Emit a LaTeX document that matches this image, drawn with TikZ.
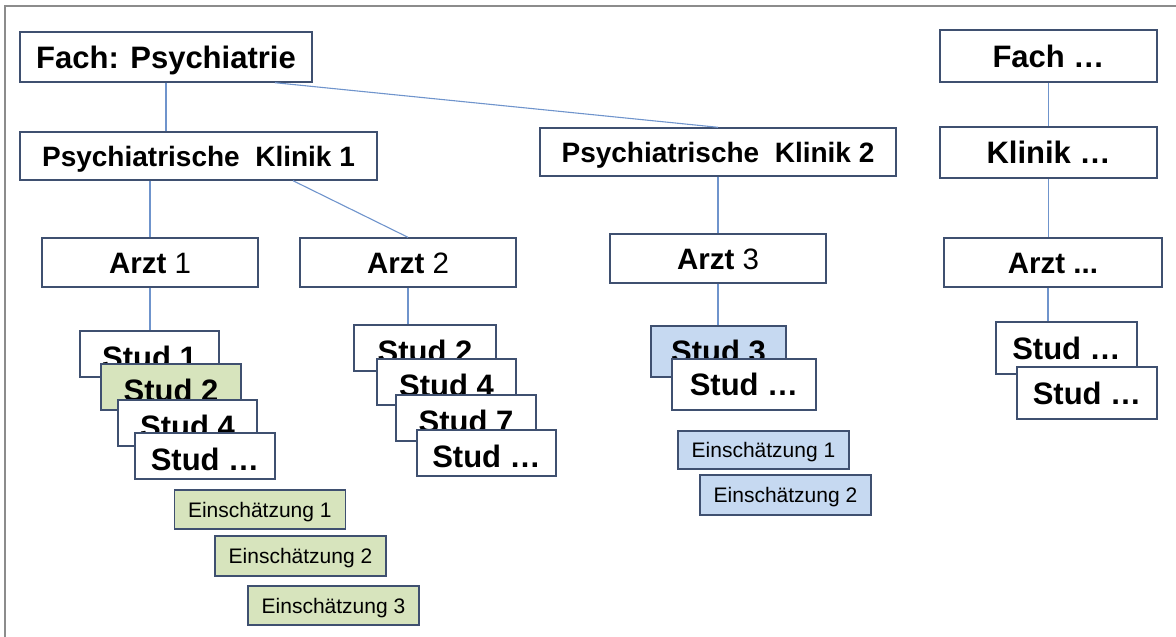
\documentclass[tikz,border=0pt]{standalone}
\usepackage{fontspec}
\setmainfont{Liberation Sans}
\definecolor{bord}{HTML}{3F5070}
\definecolor{conn}{HTML}{6F94CC}
\definecolor{grn}{HTML}{D7E4BD}
\definecolor{blu}{HTML}{C6D9F1}
\definecolor{framec}{HTML}{8C8C8C}
\tikzset{
  box/.style={draw=bord, fill=white, line width=1.4pt, inner sep=0pt, text depth=0pt},
  big/.style={box, font=\fontsize{31}{37}\selectfont\bfseries, text height=22pt},
  klin/.style={box, font=\fontsize{28}{34}\selectfont\bfseries, text height=20pt},
  arzt/.style={box, font=\fontsize{29.5}{35}\selectfont, text height=21pt, minimum width=216pt, minimum height=49pt},
  stud/.style={box, font=\fontsize{31}{37}\selectfont\bfseries, text height=22pt, minimum height=46pt},
  studlow/.style={stud, text height=29pt},
  ein/.style={box, font=\fontsize{21}{25}\selectfont, text height=15pt, minimum width=171pt, minimum height=39pt},
  link/.style={draw=conn, line width=1.1pt},
}
\begin{document}
\begin{tikzpicture}[x=1pt,y=-1pt]
\useasboundingbox (0,0) rectangle (1176,637);
\draw[framec, line width=1.5pt] (5,637) -- (5,6) -- (1176,6);

% top level
\node[big, minimum width=292pt, minimum height=50pt] (fach) at (166,57) {Fach: Psychiatrie};
\node[klin, minimum width=357pt, minimum height=48pt] (k1) at (198.5,156) {Psychiatrische~~Klinik 1};
\node[klin, minimum width=356pt, minimum height=48pt] (k2) at (718,152) {Psychiatrische~~Klinik 2};
\node[big, minimum width=217pt, minimum height=52pt] (fachx) at (1048.5,56) {Fach …};
\node[big, minimum width=217pt, minimum height=51pt] (klinx) at (1048.5,152.5) {Klinik …};

% doctors
\node[arzt] (a1) at (150,262.5) {\textbf{Arzt} 1};
\node[arzt] (a2) at (408,262.5) {\textbf{Arzt} 2};
\node[arzt] (a3) at (718,258.5) {\textbf{Arzt} 3};
\node[arzt, minimum width=218pt] (ax) at (1053,262.5) {\textbf{Arzt ...}};

% connectors
\draw[link] (fach.south) -- (fach.south |- k1.north);
\draw[link] ([xshift=109pt]fach.south) -- (k2.north);
\draw[link] (a1.north |- k1.south) -- (a1.north);
\draw[link] ([xshift=94.5pt]k1.south) -- (a2.north);
\draw[link] (k2.south) -- (a3.north);
\draw[link] (fachx.south) -- (klinx.north);
\draw[link] (klinx.south) -- (klinx.south |- ax.north);

% students column 1
\node[studlow, minimum width=139pt] (s11) at (149.5,354) {Stud 1};
\node[studlow, minimum width=140pt, fill=grn] (s12) at (171,387) {Stud 2};
\node[studlow, minimum width=139pt] (s14) at (187.5,423) {Stud 4};
\node[studlow, minimum width=140pt] (s1x) at (205,456) {Stud …};
\draw[link] (a1.south) -- (a1.south |- s11.north);

% students column 2
\node[studlow, minimum width=142pt] (s22) at (425,348) {Stud 2};
\node[studlow, minimum width=139pt] (s24) at (446.5,382) {Stud 4};
\node[studlow, minimum width=140pt] (s27) at (466,418) {Stud 7};
\node[studlow, minimum width=139pt] (s2x) at (486.5,453) {Stud …};
\draw[link] (a2.south) -- (a2.south |- s22.north);

% students column 3
\node[stud, minimum width=135pt, minimum height=51pt, fill=blu] (s33) at (718.5,351.5) {Stud 3};
\node[stud, minimum width=144pt, minimum height=51pt] (s3x) at (744,384.5) {Stud …};
\draw[link] (a3.south) -- (a3.south |- s33.north);

% students column 4
\node[stud, minimum width=141pt, minimum height=52pt] (s4a) at (1066.5,348) {Stud …};
\node[stud, minimum width=140pt, minimum height=52pt] (s4b) at (1087,393) {Stud …};
\draw[link] ([xshift=-5pt]ax.south) -- ([xshift=-5pt]ax.south |- s4a.north);

% assessments
\node[ein, fill=grn] (e11) at (259.8,509.5) {Einschätzung 1};
\node[ein, fill=grn, minimum height=40pt] (e12) at (300.5,556) {Einschätzung 2};
\node[ein, fill=grn] (e13) at (333.5,605.5) {Einschätzung 3};
\node[ein, fill=blu, minimum height=38pt] (e31) at (763.5,450) {Einschätzung 1};
\node[ein, fill=blu, minimum height=40pt] (e32) at (785.5,495) {Einschätzung 2};
\end{tikzpicture}
\end{document}
